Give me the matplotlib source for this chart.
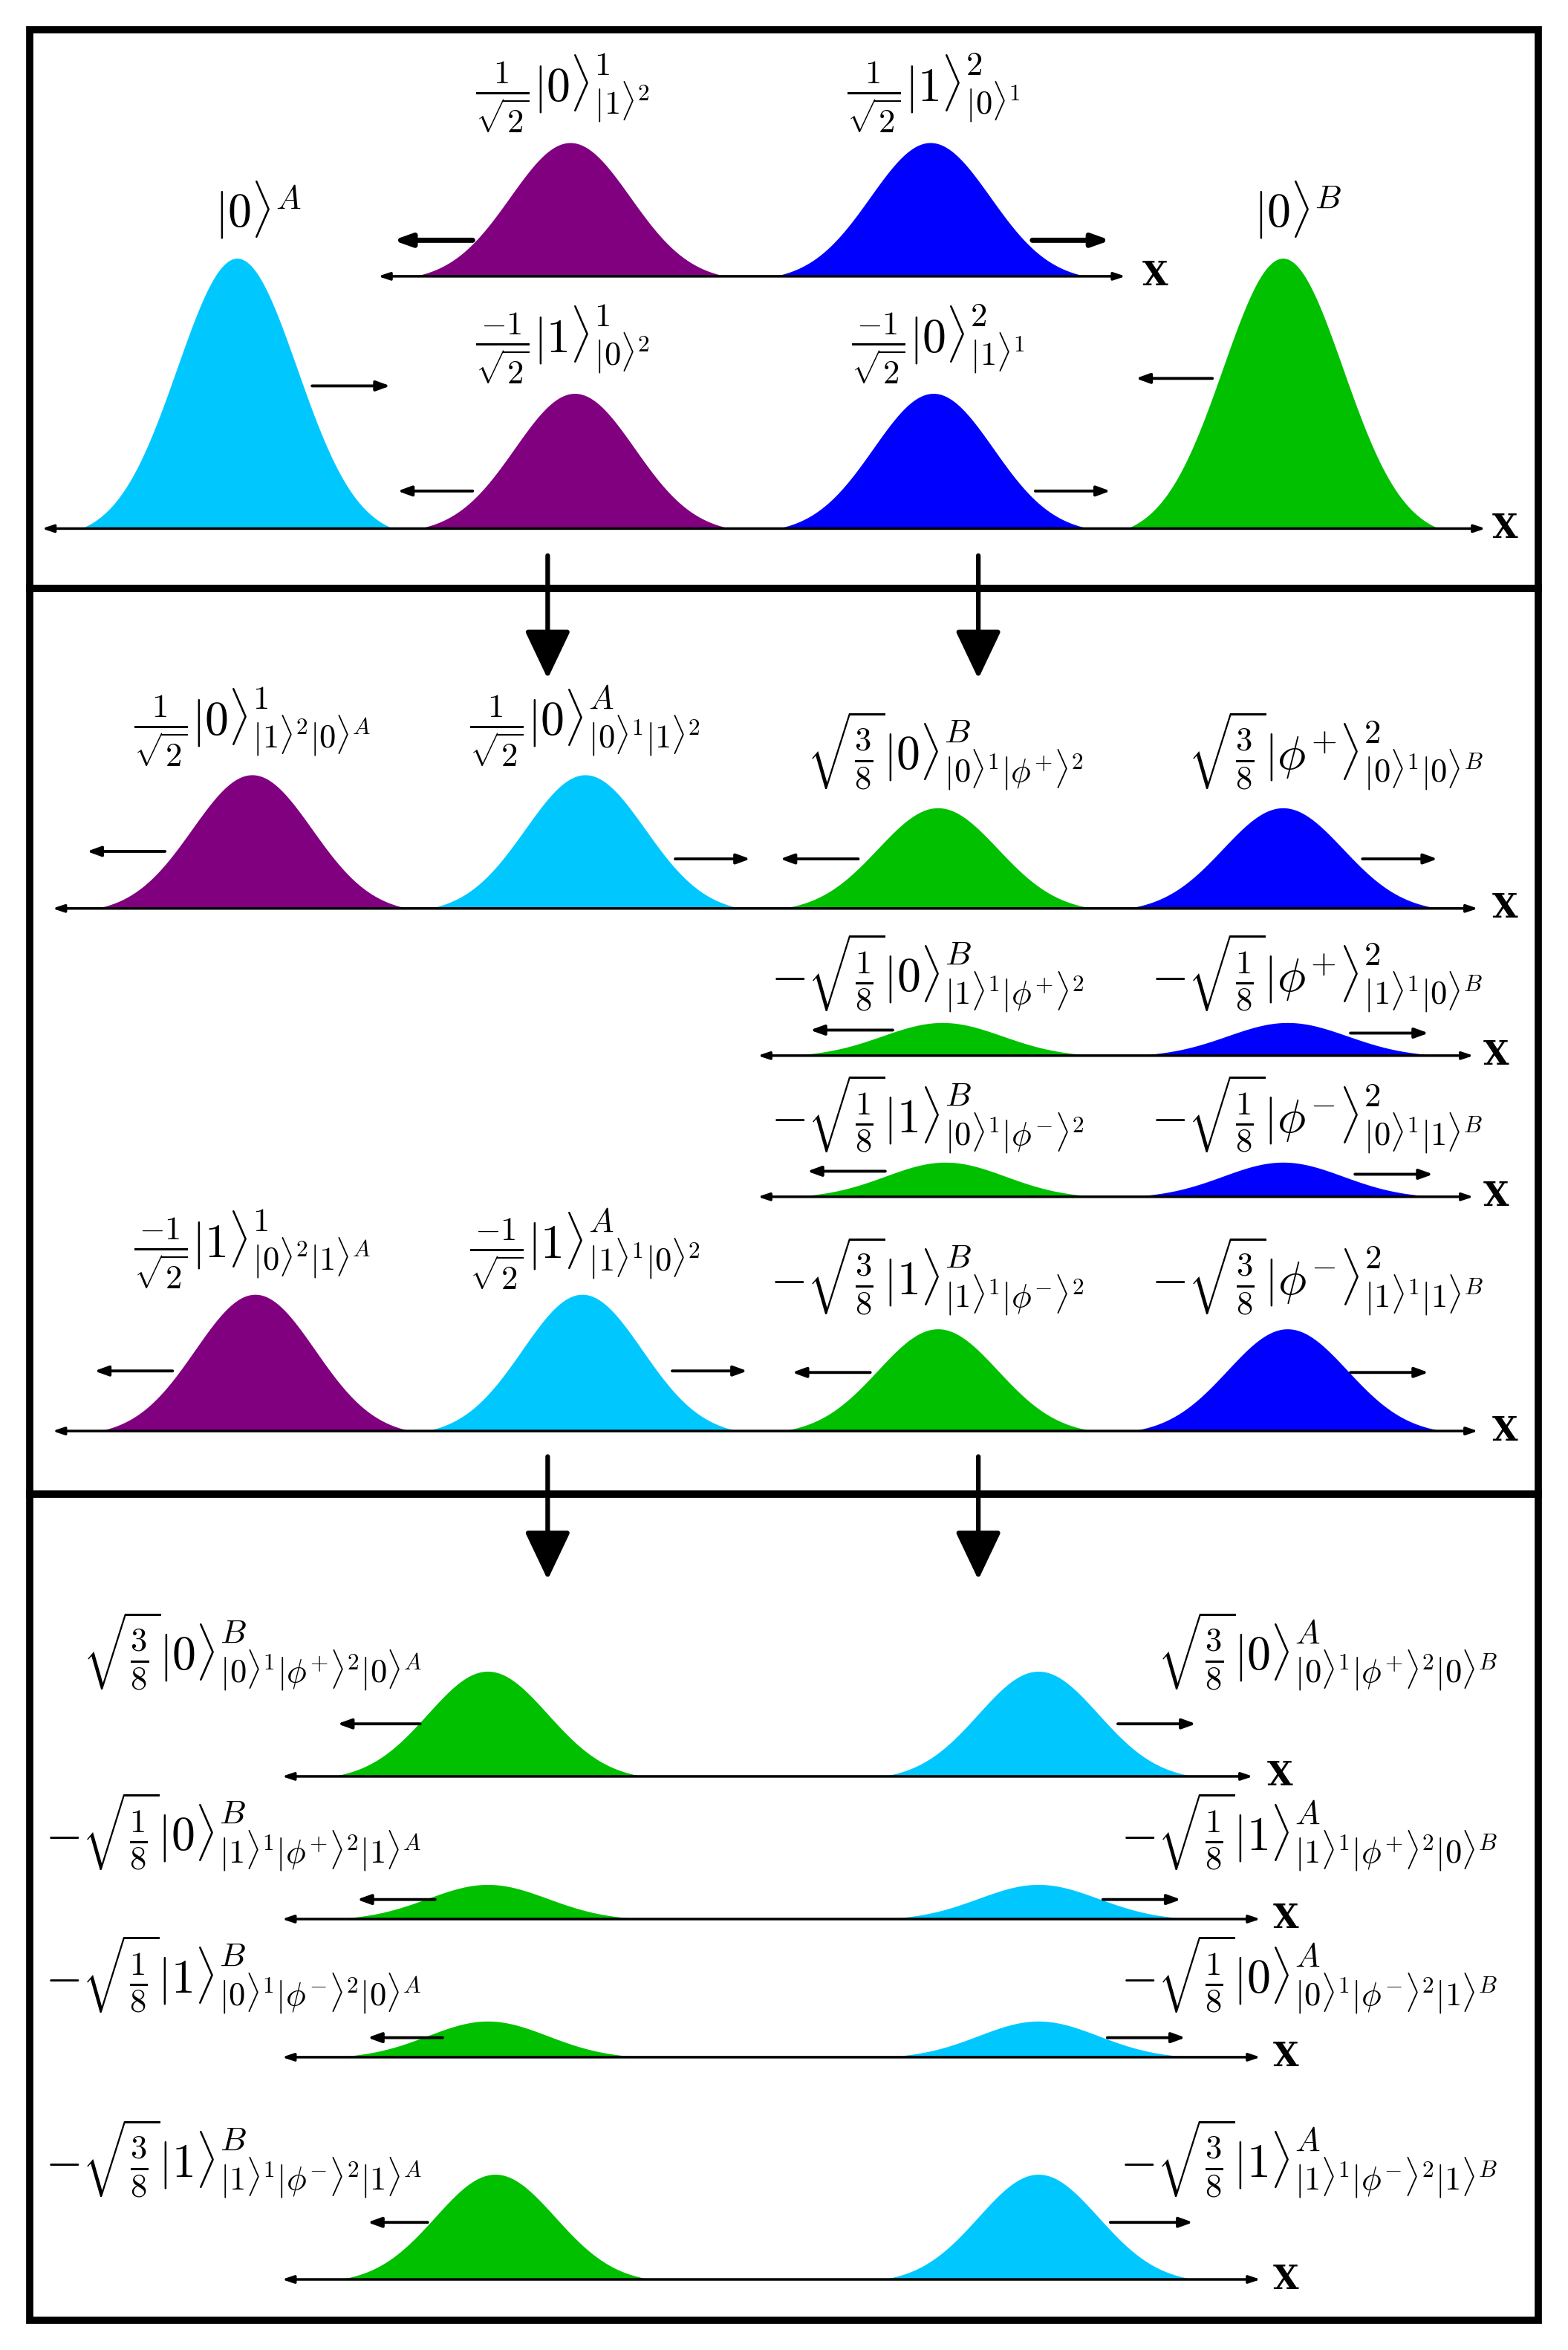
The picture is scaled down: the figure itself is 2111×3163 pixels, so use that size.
import numpy as np
import matplotlib
matplotlib.use("Agg")
import matplotlib.pyplot as plt
from matplotlib.patches import Rectangle

plt.rcParams["mathtext.fontset"] = "cm"

W, H = 1045, 1565
PURPLE, BLUE, CYAN, GREEN = "#800080", "#0000ff", "#00c8ff", "#00c000"
SIG = 40

# panels (top, bottom)
panels = [(20, 392), (392, 995), (995, 1545)]

# axes: (y, x_start, x_end, x_label)
axis_lines = [
    (352, 28, 990, 1003), (184, 252, 750, 770),
    (605, 35, 985, 1003), (703, 505, 982, 997), (797, 505, 982, 997), (953, 35, 985, 1003),
    (1183, 188, 835, 853), (1278, 188, 840, 857), (1370, 188, 840, 857), (1518, 188, 840, 857),
]

# bumps: (baseline y, center x, height, colour)
bumps = [
    (352, 158, 180, CYAN), (352, 383, 90, PURPLE), (352, 622, 90, BLUE), (352, 855, 180, GREEN),
    (184, 380, 89, PURPLE), (184, 620, 89, BLUE),
    (605, 168, 89, PURPLE), (605, 390, 89, CYAN), (605, 625, 67, GREEN), (605, 855, 67, BLUE),
    (703, 628, 22, GREEN), (703, 858, 22, BLUE),
    (797, 630, 23, GREEN), (797, 855, 23, BLUE),
    (953, 170, 91, PURPLE), (953, 388, 91, CYAN), (953, 625, 68, GREEN), (953, 858, 68, BLUE),
    (1183, 325, 70, GREEN), (1183, 692, 70, CYAN),
    (1278, 325, 23, GREEN), (1278, 692, 23, CYAN),
    (1370, 325, 24, GREEN), (1370, 692, 24, CYAN),
    (1518, 330, 70, GREEN), (1518, 692, 70, CYAN),
]

# motion arrows: (y, x_from, x_to, thick)
moves = [
    (257, 208, 260, False), (160, 315, 262, True), (160, 688, 740, True),
    (327, 315, 265, False), (327, 690, 740, False), (252, 808, 757, False),
    (567, 110, 58, False), (572, 450, 500, False), (572, 572, 520, False), (572, 908, 958, False),
    (686, 595, 540, False), (688, 900, 952, False),
    (780, 590, 538, False), (782, 903, 955, False),
    (913, 115, 63, False), (913, 448, 498, False), (914, 580, 528, False), (914, 900, 952, False),
    (1148, 280, 225, False), (1148, 745, 797, False),
    (1265, 290, 238, False), (1265, 735, 787, False),
    (1357, 295, 245, False), (1357, 738, 790, False),
    (1480, 285, 245, False), (1480, 740, 795, False),
]

# big down arrows: (x, y_from, y_to)
downs = [(365, 370, 452), (652, 370, 452), (365, 970, 1052), (652, 970, 1052)]

s3 = r"\sqrt{\frac{3}{8}}"
s1 = r"\sqrt{\frac{1}{8}}"
# labels: (x, y, text, ha)
labels = [
    (172, 140, r"$|0\rangle^{A}$", "center"),
    (865, 140, r"$|0\rangle^{B}$", "center"),
    (375, 62, r"$\frac{1}{\sqrt{2}}|0\rangle^{1}_{|1\rangle^{2}}$", "center"),
    (622, 62, r"$\frac{1}{\sqrt{2}}|1\rangle^{2}_{|0\rangle^{1}}$", "center"),
    (375, 229, r"$\frac{-1}{\sqrt{2}}|1\rangle^{1}_{|0\rangle^{2}}$", "center"),
    (625, 229, r"$\frac{-1}{\sqrt{2}}|0\rangle^{2}_{|1\rangle^{1}}$", "center"),
    (168, 484, r"$\frac{1}{\sqrt{2}}|0\rangle^{1}_{|1\rangle^{2}|0\rangle^{A}}$", "center"),
    (390, 484, r"$\frac{1}{\sqrt{2}}|0\rangle^{A}_{|0\rangle^{1}|1\rangle^{2}}$", "center"),
    (630, 500, r"$" + s3 + r"|0\rangle^{B}_{|0\rangle^{1}|\phi^{+}\rangle^{2}}$", "center"),
    (890, 500, r"$" + s3 + r"|\phi^{+}\rangle^{2}_{|0\rangle^{1}|0\rangle^{B}}$", "center"),
    (618, 648, r"$-" + s1 + r"|0\rangle^{B}_{|1\rangle^{1}|\phi^{+}\rangle^{2}}$", "center"),
    (878, 648, r"$-" + s1 + r"|\phi^{+}\rangle^{2}_{|1\rangle^{1}|0\rangle^{B}}$", "center"),
    (618, 742, r"$-" + s1 + r"|1\rangle^{B}_{|0\rangle^{1}|\phi^{-}\rangle^{2}}$", "center"),
    (878, 742, r"$-" + s1 + r"|\phi^{-}\rangle^{2}_{|0\rangle^{1}|1\rangle^{B}}$", "center"),
    (168, 832, r"$\frac{-1}{\sqrt{2}}|1\rangle^{1}_{|0\rangle^{2}|1\rangle^{A}}$", "center"),
    (390, 832, r"$\frac{-1}{\sqrt{2}}|1\rangle^{A}_{|1\rangle^{1}|0\rangle^{2}}$", "center"),
    (618, 850, r"$-" + s3 + r"|1\rangle^{B}_{|1\rangle^{1}|\phi^{-}\rangle^{2}}$", "center"),
    (878, 850, r"$-" + s3 + r"|\phi^{-}\rangle^{2}_{|1\rangle^{1}|1\rangle^{B}}$", "center"),
    (55, 1100, r"$" + s3 + r"|0\rangle^{B}_{|0\rangle^{1}|\phi^{+}\rangle^{2}|0\rangle^{A}}$", "left"),
    (998, 1100, r"$" + s3 + r"|0\rangle^{A}_{|0\rangle^{1}|\phi^{+}\rangle^{2}|0\rangle^{B}}$", "right"),
    (30, 1220, r"$-" + s1 + r"|0\rangle^{B}_{|1\rangle^{1}|\phi^{+}\rangle^{2}|1\rangle^{A}}$", "left"),
    (998, 1220, r"$-" + s1 + r"|1\rangle^{A}_{|1\rangle^{1}|\phi^{+}\rangle^{2}|0\rangle^{B}}$", "right"),
    (30, 1315, r"$-" + s1 + r"|1\rangle^{B}_{|0\rangle^{1}|\phi^{-}\rangle^{2}|0\rangle^{A}}$", "left"),
    (998, 1315, r"$-" + s1 + r"|0\rangle^{A}_{|0\rangle^{1}|\phi^{-}\rangle^{2}|1\rangle^{B}}$", "right"),
    (30, 1438, r"$-" + s3 + r"|1\rangle^{B}_{|1\rangle^{1}|\phi^{-}\rangle^{2}|1\rangle^{A}}$", "left"),
    (998, 1438, r"$-" + s3 + r"|1\rangle^{A}_{|1\rangle^{1}|\phi^{-}\rangle^{2}|1\rangle^{B}}$", "right"),
]

fig = plt.figure(figsize=(21.11, 31.63), dpi=100)
ax = fig.add_axes([0, 0, 1, 1])
ax.set_xlim(0, W)
ax.set_ylim(H, 0)
ax.axis("off")

for top, bot in panels:
    ax.add_patch(Rectangle((20, top), 1005, bot - top, fill=False, lw=7, ec="black", zorder=5))

for y0, cx, h, col in bumps:
    x = np.linspace(cx - 2.6 * SIG, cx + 2.6 * SIG, 300)
    g = np.exp(-0.5 * ((x - cx) / SIG) ** 2)
    g = (g - g[0]) / (1 - g[0])
    ax.fill_between(x, y0, y0 - h * g, color=col, lw=0, zorder=2)

for y, x0, x1, xl in axis_lines:
    ax.annotate("", xy=(x1, y), xytext=(x0, y),
                arrowprops=dict(arrowstyle="<|-|>,head_length=0.9,head_width=0.3",
                                color="black", lw=2.5, shrinkA=0, shrinkB=0), zorder=3)
    ax.text(xl, y, "X", fontsize=32, fontfamily="DejaVu Serif", fontweight="bold",
            ha="center", va="center")

for y, x0, x1, thick in moves:
    lw = 5 if thick else 2.8
    hl = 1.4 if thick else 1.1
    hw = 0.5 if thick else 0.4
    ax.annotate("", xy=(x1, y), xytext=(x0, y),
                arrowprops=dict(arrowstyle=f"-|>,head_length={hl},head_width={hw}",
                                color="black", lw=lw, shrinkA=0, shrinkB=0), zorder=4)

for x, y0, y1 in downs:
    ax.annotate("", xy=(x, y1), xytext=(x, y0),
                arrowprops=dict(arrowstyle="-|>,head_length=4.0,head_width=1.9",
                                color="black", lw=4.5, shrinkA=0, shrinkB=0), zorder=6)

for x, y, t, ha in labels:
    ax.text(x, y, t, fontsize=46, ha=ha, va="center", zorder=4)

fig.savefig("out.png", dpi=100)
